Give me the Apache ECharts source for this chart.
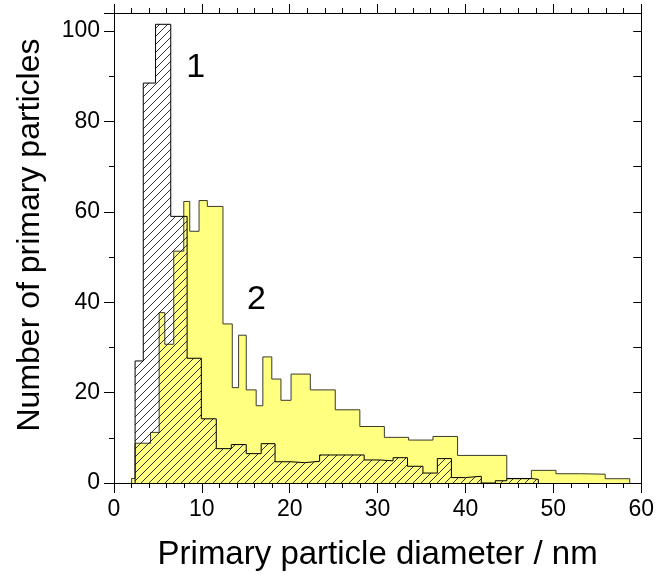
<!DOCTYPE html>
<html>
<head>
<meta charset="utf-8">
<script src="https://cdn.jsdelivr.net/npm/echarts@6/dist/echarts.min.js"></script>
<style>
html,body{margin:0;padding:0;background:#fff;}
#chart{width:657px;height:576px;}
</style>
</head>
<body>
<div id="chart"></div>
<script>
// Histogram 1 (hatched): bin edges (nm) and counts
const edges1 = [2.4, 3.33, 4.73, 6.46, 8.32, 9.94, 11.64, 13.35, 15.05, 16.75, 18.33, 20.15, 21.66, 23.4, 28.47, 30.2, 31.76, 33.4, 35.16, 36.8, 38.4, 40.0, 41.8, 43.4, 44.7, 47.5, 48.3];
const counts1 = [27, 88.5, 101.5, 59, 27.6, 14.2, 7.6, 8.5, 6.5, 8.7, 4.7, 4.5, 4.8, 6.2, 5.1, 4.9, 5.6, 3.7, 2.2, 5.4, 1.2, 1.5, 0, 0.5, 1.0, 0.8];
// Histogram 2 (yellow): bin edges (nm) and counts
const edges2 = [2.0, 2.4, 4.16, 5.14, 5.78, 6.8, 7.94, 8.62, 9.68, 10.62, 12.4, 13.46, 14.18, 15.05, 16.18, 16.94, 17.96, 19.0, 20.15, 22.34, 25.18, 27.98, 30.77, 33.53, 36.3, 39.1, 44.7, 47.5, 50.3, 53.1, 55.9, 58.7];
const counts2 = [1, 8.8, 11.2, 37.7, 30.7, 51.3, 62.3, 55.7, 62.5, 61.2, 35.2, 21.1, 32.7, 20.6, 17.1, 27.9, 23.0, 18.3, 24.1, 20.6, 16.2, 12.5, 10.1, 9.5, 10.3, 6.1, 0.95, 2.8, 2.05, 1.95, 0.95];
// Curve labels
const annotLabels = ['1', '2'];
const annotX = [9.3, 16.2];
const annotY = [92.0, 40.6];

const xTitle = 'Primary particle diameter / nm';
const yTitle = 'Number of primary particles';

function stepPoints(edges, counts) {
  const pts = [[edges[0], 0]];
  for (let i = 0; i < counts.length; i++) pts.push([edges[i], counts[i]]);
  pts.push([edges[edges.length - 1], counts[counts.length - 1]]);
  pts.push([edges[edges.length - 1], 0]);
  return pts;
}

function hatch() {
  const s = 8;
  const c = document.createElement('canvas');
  c.width = s; c.height = s;
  const g = c.getContext('2d');
  g.strokeStyle = '#1a1a1a';
  g.lineWidth = 0.9;
  g.beginPath();
  g.moveTo(-1, s + 1); g.lineTo(s + 1, -1);
  g.moveTo(-1, 1); g.lineTo(1, -1);
  g.moveTo(s - 1, s + 1); g.lineTo(s + 1, s - 1);
  g.stroke();
  return c;
}

const font = 'Liberation Sans, Arial, sans-serif';
const chart = echarts.init(document.getElementById('chart'), null, {renderer: 'canvas'});
const axisLine = {show: true, onZero: false, lineStyle: {color: '#000', width: 1}};

chart.setOption({
  animation: false,
  backgroundColor: '#fff',
  grid: {left: 114, right: 14, top: 13, bottom: 90},
  xAxis: [
    {
      type: 'value', min: 0, max: 60, interval: 10, position: 'bottom',
      axisLine: axisLine,
      axisTick: {show: true, length: 10, lineStyle: {color: '#000'}},
      minorTick: {show: true, splitNumber: 5, length: 5, lineStyle: {color: '#000'}},
      splitLine: {show: false},
      axisLabel: {fontSize: 23, color: '#000', fontFamily: font, margin: 15},
      name: xTitle, nameLocation: 'middle', nameGap: 55,
      nameTextStyle: {fontSize: 33, color: '#000', fontFamily: font}
    },
    {
      type: 'value', min: 0, max: 60, interval: 10, position: 'top',
      axisLine: axisLine,
      axisTick: {show: true, length: 9, lineStyle: {color: '#000'}},
      minorTick: {show: true, splitNumber: 5, length: 5, lineStyle: {color: '#000'}},
      splitLine: {show: false},
      axisLabel: {show: false}
    }
  ],
  yAxis: [
    {
      type: 'value', min: 0, max: 104, interval: 20, position: 'left',
      axisLine: axisLine,
      axisTick: {show: true, length: 10, lineStyle: {color: '#000'}},
      minorTick: {show: true, splitNumber: 2, length: 5, lineStyle: {color: '#000'}},
      splitLine: {show: false},
      axisLabel: {fontSize: 23, color: '#000', fontFamily: font, margin: 14,
        formatter: v => (v % 20 === 0 ? String(v) : '')},
      name: yTitle, nameLocation: 'middle', nameGap: 68,
      nameTextStyle: {fontSize: 32, color: '#000', fontFamily: font, padding: [0, 0, 0, 26]}
    },
    {
      type: 'value', min: 0, max: 104, interval: 20, position: 'right',
      axisLine: axisLine,
      axisTick: {show: true, inside: true, length: 8, lineStyle: {color: '#000'}},
      minorTick: {show: true, splitNumber: 2, length: 8, lineStyle: {color: '#000'}},
      splitLine: {show: false},
      axisLabel: {show: false}
    }
  ],
  series: [
    {
      type: 'line', name: '2', xAxisIndex: 0, yAxisIndex: 0,
      data: stepPoints(edges2, counts2), step: 'end',
      showSymbol: false, symbol: 'none', z: 2,
      lineStyle: {color: '#3a3a2a', width: 1},
      areaStyle: {color: '#FFFF80', opacity: 1}
    },
    {
      type: 'line', name: '1', xAxisIndex: 0, yAxisIndex: 0,
      data: stepPoints(edges1, counts1), step: 'end',
      showSymbol: false, symbol: 'none', z: 3,
      lineStyle: {color: '#000', width: 1},
      areaStyle: {color: {image: hatch(), repeat: 'repeat'}, opacity: 1}
    },
    {
      type: 'scatter', xAxisIndex: 0, yAxisIndex: 0, symbolSize: 0, z: 5,
      itemStyle: {opacity: 1},
      data: annotLabels.map((t, i) => ({name: t, value: [annotX[i], annotY[i]]})),
      label: {show: true, position: 'inside', formatter: p => p.name, opacity: 1,
        fontSize: 34, color: '#000', fontFamily: font},
      silent: true
    }
  ]
});
</script>
</body>
</html>
